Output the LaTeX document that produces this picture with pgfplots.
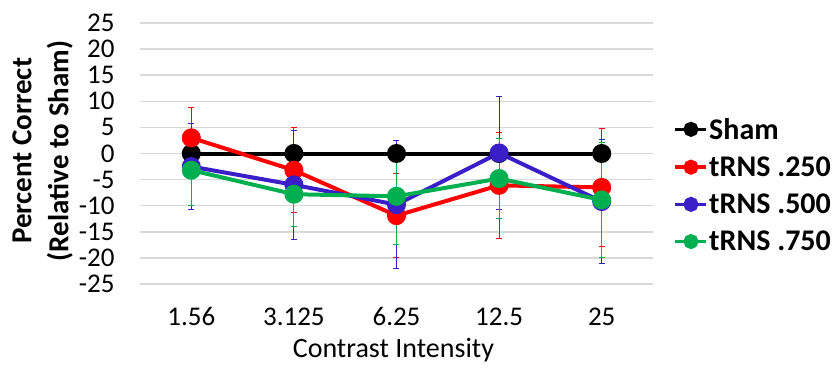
\documentclass[border=0pt]{standalone}
\usepackage{pgfplots}
\pgfplotsset{compat=1.18}
\usepackage{fontspec}
\setmainfont{Carlito}
\definecolor{cred}{HTML}{FF0000}
\definecolor{cblue}{HTML}{3A1FC8}
\definecolor{cgreen}{HTML}{00B050}
\definecolor{cgrid}{HTML}{D9D9D9}
\begin{document}
\begin{tikzpicture}
\begin{axis}[
  scale only axis, width=513pt, height=261pt,
  xmin=-0.5, xmax=4.5, ymin=-25, ymax=25,
  xtick={0,1,2,3,4}, xticklabels={1.56,3.125,6.25,12.5,25},
  ytick={-25,-20,...,25},
  axis line style={draw=none},
  major tick length=0pt,
  ymajorgrids, grid style={cgrid, line width=1.5pt},
  /pgf/number format/assume math mode=true,
  tick label style={font=\fontsize{27}{30}\selectfont},
  yticklabel style={xshift=-22pt},
  xticklabel style={yshift=-20pt},
  xlabel={Contrast Intensity},
  xlabel style={font=\fontsize{28}{32}\selectfont, at={(axis description cs:0.494,0)}, anchor=north, yshift=-51pt},
  ylabel={Percent Correct\\(Relative to Sham)},
  ylabel style={font=\bfseries\fontsize{29}{37}\selectfont, align=center, at={(axis description cs:-0.19,0.51)}, anchor=center},
  legend style={at={(axis description cs:1.04,0.379)}, anchor=west, draw=none, fill=none,
    font=\bfseries\fontsize{30}{34}\selectfont, row sep=14pt, inner sep=0pt,
    nodes={inner sep=1pt}},
  legend cell align=left,
  legend image code/.code={
    \draw[line width=3.5pt] (0pt,0pt) -- (31pt,0pt);
    \fill (15.5pt,0pt) circle (5.5pt);
  },
  every axis plot/.append style={line width=4pt, mark=*, mark size=7.5pt, mark options={solid}},
  error bars/y dir=both, error bars/y explicit,
]
\addplot[black] coordinates {(0,0) (1,0) (2,0) (3,0) (4,0)};
\addlegendentry{Sham}
\addplot[cred, error bars/error bar style={line width=1pt, cred}, error bars/error mark options={rotate=90, mark size=3pt, line width=1pt, cred}]
  coordinates {(0,3.0) +- (0,5.8) (1,-3.2) +- (0,8.1) (2,-11.9) +- (0,8.0) (3,-6.1) +- (0,10.2) (4,-6.5) +- (0,11.3)};
\addlegendentry{tRNS .250}
\addplot[cblue, error bars/error bar style={line width=1pt, cblue}, error bars/error mark options={rotate=90, mark size=3pt, line width=1pt, cblue}]
  coordinates {(0,-2.5) +- (0,8.3) (1,-6.0) +- (0,10.4) (2,-9.8) +- (0,12.2) (3,0.1) +- (0,10.8) (4,-9.2) +- (0,11.8)};
\addlegendentry{tRNS .500}
\addplot[cgreen, error bars/error bar style={line width=1pt, cgreen}, error bars/error mark options={rotate=90, mark size=3pt, line width=1pt, cgreen}]
  coordinates {(0,-3.2) +- (0,6.7) (1,-7.8) +- (0,6.1) (2,-8.2) +- (0,9.3) (3,-4.8) +- (0,7.7) (4,-8.9) +- (0,11.0)};
\addlegendentry{tRNS .750}
\end{axis}
\pgfresetboundingbox
\path[use as bounding box] (-140pt,-86pt) rectangle (693pt,284pt);
\end{tikzpicture}
\end{document}
